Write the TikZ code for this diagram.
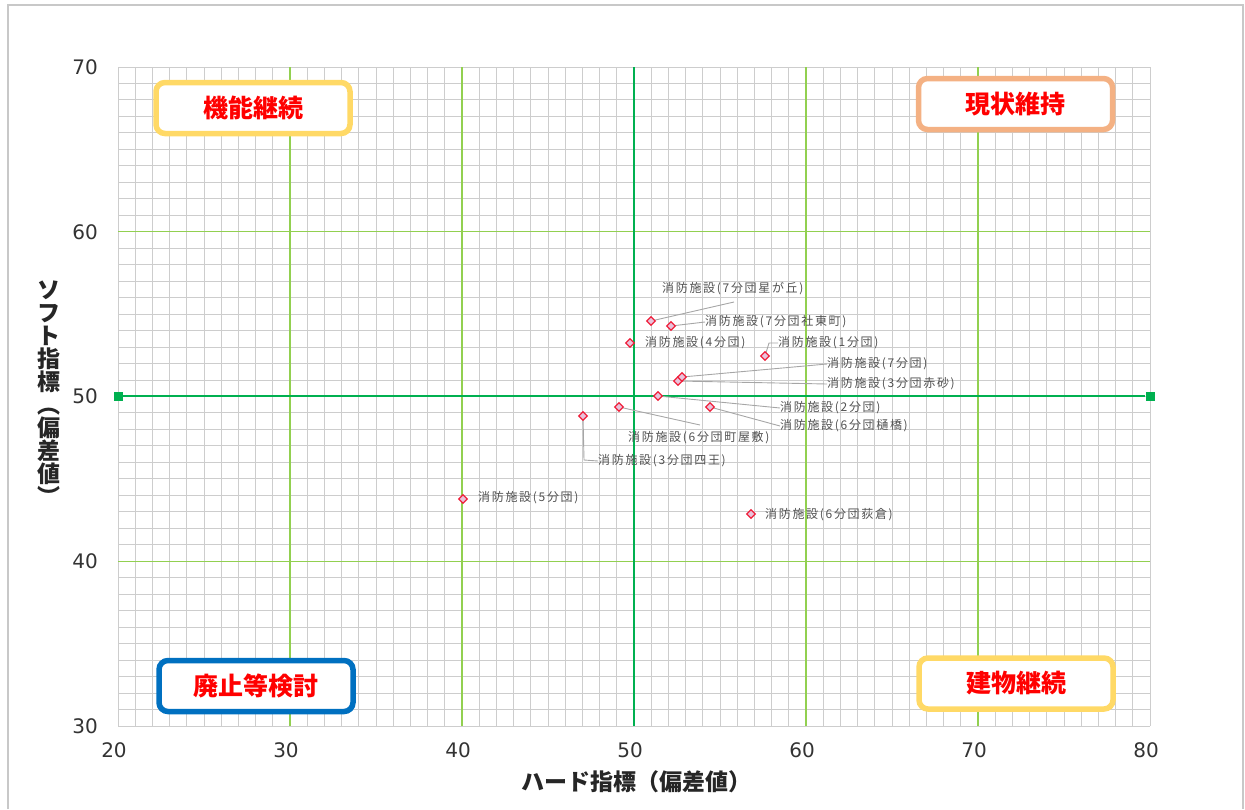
\documentclass[tikz,border=0pt]{standalone}
\usepackage{fontspec}
\setmainfont{Noto Sans CJK JP}
\newfontfamily\tickfont{DejaVu Sans}
\usetikzlibrary{shapes.geometric}
\definecolor{minorgrid}{HTML}{CDCDCD}
\definecolor{majorgrid}{HTML}{92D050}
\definecolor{axisgreen}{HTML}{00B050}
\definecolor{frame}{HTML}{C8C8C8}
\definecolor{ptred}{HTML}{F0203C}
\definecolor{ptfill}{HTML}{E8C4DC}
\definecolor{leader}{HTML}{A6A6A6}
\definecolor{lbl}{HTML}{505050}
\definecolor{boxyellow}{HTML}{FFD966}
\definecolor{boxorange}{HTML}{F4B183}
\definecolor{boxblue}{HTML}{0070C0}
\tikzset{
  pt/.style={diamond, draw=ptred, fill=ptfill, line width=1.3pt, minimum size=9pt, inner sep=0pt},
  lab/.style={anchor=west, inner sep=0pt, text=lbl, font=\fontsize{12}{13}\selectfont\addfontfeature{LetterSpace=14}},
  lead/.style={draw=leader, line width=0.9pt},
  quad/.style={draw=#1, line width=5.5pt, rounded corners=9pt, fill=white, minimum width=194pt, minimum height=51pt, text=red, font=\fontsize{25}{26}\selectfont\bfseries},
  tick/.style={inner sep=0pt, text=black!80, font=\tickfont\fontsize{20}{22}\selectfont},
  axtitle/.style={inner sep=0pt, text=black!85, font=\fontsize{23}{23}\selectfont\bfseries}
}
\begin{document}
\begin{tikzpicture}[x=1pt, y=-1pt]
\useasboundingbox (0,0) rectangle (1245,809);
% outer frame
\draw[frame, line width=2pt] (8,809) -- (8,5) -- (1243,5) -- (1243,809);
% minor grid
\foreach \i in {0,...,60} {\draw[minorgrid, line width=1pt] ({118+\i*17.2},67) -- ({118+\i*17.2},726);}
\foreach \j in {0,...,40} {\draw[minorgrid, line width=1pt] (118,{67+\j*16.475}) -- (1150,{67+\j*16.475});}
% major grid
\foreach \i in {1,2,4,5} {\draw[majorgrid, line width=1.1pt] ({118+\i*172},67) -- ({118+\i*172},726);}
\foreach \j in {1,3} {\draw[majorgrid, line width=1.1pt] (118,{67+\j*164.75}) -- (1150,{67+\j*164.75});}
% axes at 50
\draw[axisgreen, line width=2.2pt] (634,67) -- (634,726);
\node[fill=axisgreen, minimum size=9pt, inner sep=0pt] (sqL) at (118,396) {};
\node[fill=axisgreen, minimum size=9pt, inner sep=0pt] (sqR) at (1150,396) {};
\draw[axisgreen, line width=2.2pt] (sqL) -- (sqR);
% tick labels
\foreach \v/\y in {70/67,60/231.75,50/396.5,40/561.25,30/726} {\node[tick, anchor=east] (ty\v) at (98,\y) {\v};}
\foreach \v/\x in {20/118,30/290,40/462,50/634,60/806,70/978,80/1150} {\node[tick] (tx\v) at (\x-4,750) {\v};}
% axis titles
\node[axtitle] (xtitle) at (636,782) {ハード指標（偏差値）};
\node[axtitle, align=center] (ytitle) at (49,393) {ソ\\フ\\ト\\指\\標\\︵\\偏\\差\\値\\︶};
% quadrant boxes
\node[quad=boxyellow] (q1) at (253,108) {機能継続};
\node[quad=boxorange] (q2) at (1015.5,104) {現状維持};
\node[quad=boxblue] (q3) at (256,686) {廃止等検討};
\node[quad=boxyellow] (q4) at (1016,683.5) {建物継続};
% labels
\node[lab] (l1) at (662,289) {消防施設(7分団星が丘)};
\node[lab] (l2) at (705,322) {消防施設(7分団社東町)};
\node[lab] (l3) at (645,343) {消防施設(4分団)};
\node[lab] (l4) at (778,343) {消防施設(1分団)};
\node[lab] (l5) at (827,364) {消防施設(7分団)};
\node[lab] (l6) at (827,384) {消防施設(3分団赤砂)};
\node[lab] (l7) at (780,408) {消防施設(2分団)};
\node[lab] (l8) at (780,426) {消防施設(6分団樋橋)};
\node[lab] (l9) at (628,438) {消防施設(6分団町屋敷)};
\node[lab] (l10) at (598,461) {消防施設(3分団四王)};
\node[lab] (l11) at (478,498) {消防施設(5分団)};
\node[lab] (l12) at (765,515) {消防施設(6分団荻倉)};
% leader coordinates
\coordinate (c1) at (734,302);
\coordinate (c4) at (769,343);
\coordinate (c9) at (700,425);
\coordinate (c10) at (584,460);
% leaders (drawn before points)
\draw[lead] (651,321) -- (c1);
\draw[lead] (671,326) -- (l2.west);
\draw[lead] (765,356) -- (c4) -- (l4.west);
\draw[lead] (682,377) -- (l5.west);
\draw[lead] (678,381) -- (l6.west);
\draw[lead] (658,396) -- (l7.west);
\draw[lead] (710,407) -- (l8.west);
\draw[lead] (619,407) -- (c9);
\draw[lead] (583,416) -- (c10) -- (l10.west);
% data points
\node[pt] (p1) at (651,321) {};
\node[pt] (p2) at (671,326) {};
\node[pt] (p3) at (630,343) {};
\node[pt] (p4) at (765,356) {};
\node[pt] (p6) at (678,381) {};
\node[pt] (p5) at (682,377) {};
\node[pt] (p7) at (658,396) {};
\node[pt] (p8) at (710,407) {};
\node[pt] (p9) at (619,407) {};
\node[pt] (p10) at (583,416) {};
\node[pt] (p11) at (463,499) {};
\node[pt] (p12) at (751,514) {};
\end{tikzpicture}
\end{document}
